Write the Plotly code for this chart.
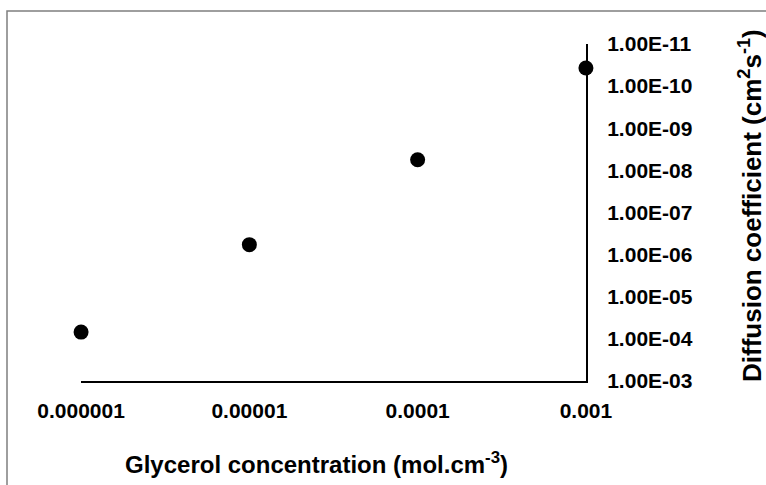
import plotly.graph_objects as go

# Data
glycerol_conc = [1e-6, 1e-5, 1e-4, 1e-3]
diffusion_coef = [6.9e-5, 5.8e-7, 5.6e-9, 3.7e-11]

x_tickvals = [1e-6, 1e-5, 1e-4, 1e-3]
x_ticktext = ["0.000001", "0.00001", "0.0001", "0.001"]
y_exponents = [-11, -10, -9, -8, -7, -6, -5, -4, -3]
y_tickvals = [10.0 ** e for e in y_exponents]
y_ticktext = ["1.00E-%02d" % (-e) for e in y_exponents]

W, H = 766, 485
L, R, T, B = 81, 180, 44, 104
pw, ph = W - L - R, H - T - B

FONT = "Liberation Sans, Arial, sans-serif"

fig = go.Figure()
fig.add_trace(go.Scatter(
    x=glycerol_conc, y=diffusion_coef, mode="markers",
    marker=dict(color="black", size=15, symbol="circle"),
    cliponaxis=False, showlegend=False,
))

fig.update_layout(
    width=W, height=H,
    margin=dict(l=L, r=R, t=T, b=B, pad=0),
    paper_bgcolor="white", plot_bgcolor="white",
    font=dict(family=FONT, color="black"),
    xaxis=dict(
        type="log", range=[-6.0005, -2.9995],
        tickvals=x_tickvals, ticktext=x_ticktext,
        showgrid=False, zeroline=False,
        showline=True, linecolor="black", linewidth=2,
        ticks="", ticklabelstandoff=10,
        tickfont=dict(family=FONT, size=21, color="black", weight="bold"),
    ),
    yaxis=dict(
        type="log", range=[-3, -11], side="right",
        tickvals=y_tickvals, ticktext=y_ticktext,
        showgrid=False, zeroline=False,
        showline=True, linecolor="black", linewidth=2,
        ticks="", ticklabelstandoff=15,
        tickfont=dict(family=FONT, size=21, color="black", weight="bold"),
    ),
    shapes=[dict(
        type="rect", xref="paper", yref="paper",
        x0=(7 - L) / pw, x1=(W + 10 - L) / pw,
        y0=-(H + 10 - T - ph) / ph, y1=(T + ph - 11) / ph,
        line=dict(color="#7f7f7f", width=1.5), fillcolor="rgba(0,0,0,0)",
        layer="below",
    )],
    annotations=[
        dict(text="<b>Glycerol concentration (mol.cm<sup>-3</sup>)</b>",
             xref="paper", yref="paper",
             x=(316 - L) / pw, y=-(463 - T - ph) / ph,
             xanchor="center", yanchor="middle", showarrow=False,
             font=dict(family=FONT, size=24, color="black")),
        dict(text="<b>Diffusion coefficient (cm<sup>2</sup>s<sup>-1</sup>)</b>",
             xref="paper", yref="paper",
             x=(751 - L) / pw, y=(T + ph - 206) / ph,
             xanchor="center", yanchor="middle", showarrow=False, textangle=-90,
             font=dict(family=FONT, size=26, color="black")),
    ],
)

fig.write_html("out.html")
